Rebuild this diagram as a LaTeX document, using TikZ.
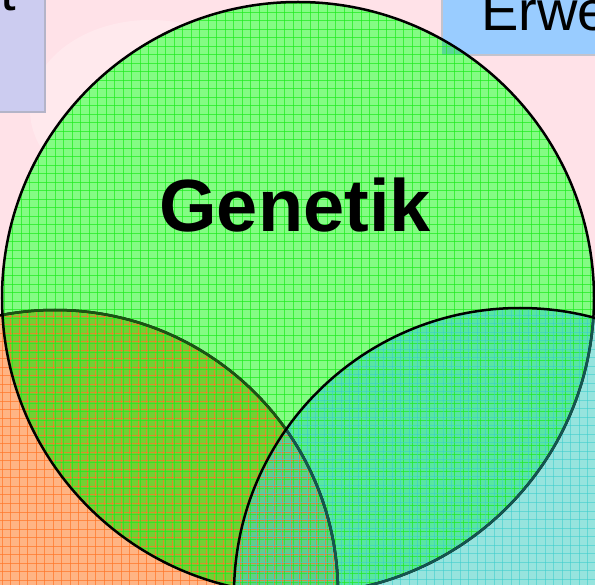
\documentclass[tikz,border=0pt]{standalone}
\usepackage{fontspec}
\setmainfont{Liberation Sans}
\definecolor{bgpink}{RGB}{255,226,232}
\definecolor{orgbase}{RGB}{255,180,132}
\definecolor{orgline}{RGB}{255,118,40}
\definecolor{grnbase}{RGB}{132,252,132}
\definecolor{grnline}{RGB}{30,235,30}
\definecolor{olivefill}{RGB}{115,208,50}
\definecolor{cybase}{RGB}{150,228,222}
\definecolor{cyline}{RGB}{58,205,205}
\definecolor{cygrn}{RGB}{88,230,162}
\definecolor{cyorg}{RGB}{150,205,175}
\definecolor{cytriple}{RGB}{98,205,138}
\definecolor{lavbox}{RGB}{204,204,240}
\definecolor{lavedge}{RGB}{180,180,200}
\definecolor{bluebox}{RGB}{153,204,255}
\definecolor{blueedge}{RGB}{195,195,205}
\definecolor{boxgrn}{RGB}{90,215,150}
\definecolor{darkgrnedge}{RGB}{25,85,20}
\definecolor{darkcyedge}{RGB}{20,85,80}
\tikzset{
  gridline/.style={line width=1pt, opacity=0.7},
  rim/.style={line width=2.5pt},
  bigtext/.style={inner sep=0pt, outer sep=0pt, text=black}
}
\begin{document}
\begin{tikzpicture}[x=1pt,y=-1pt]
\def\orgC{(55,593) circle[radius=283pt]}
\def\grnC{(298,298) circle[radius=296pt]}
\def\cyC{(520,594) circle[radius=286pt]}
\useasboundingbox (0,0) rectangle (595,585);
\clip (0,0) rectangle (595,585);
% background
\fill[bgpink] (0,0) rectangle (595,585);
\fill[white, opacity=0.25] (150,110) ellipse[x radius=120pt, y radius=90pt];
% boxes
\fill[lavbox] (-5,-5) rectangle (45,112);
\draw[lavedge, line width=2pt] (-5,112) -- (45,112) -- (45,-5);
\fill[bluebox] (442,-5) rectangle (600,55);
\draw[blueedge, line width=2pt] (442,-5) -- (442,55) -- (600,55);
% circle fills
\fill[orgbase] \orgC;
\fill[grnbase] \grnC;
\begin{scope}\clip \orgC; \fill[olivefill] \grnC; \end{scope}
\begin{scope}\clip (442,-5) rectangle (600,55); \fill[boxgrn] \grnC; \end{scope}
\fill[cybase] \cyC;
\begin{scope}\clip \cyC; \fill[cygrn] \grnC; \end{scope}
\begin{scope}\clip \cyC; \clip \orgC; \fill[cyorg] \orgC; \clip \grnC; \fill[cytriple] \grnC; \end{scope}
% grids
\begin{scope}
  \clip \orgC;
  \foreach \k in {0,...,70} {
    \draw[gridline, orgline] (\k*8.5+2, 0) -- (\k*8.5+2, 585);
    \draw[gridline, orgline] (0, \k*8.5+2) -- (595, \k*8.5+2);
  }
\end{scope}
\begin{scope}
  \clip \grnC;
  \foreach \k in {0,...,70} {
    \draw[gridline, grnline] (\k*8.5+4, 0) -- (\k*8.5+4, 585);
    \draw[gridline, grnline] (0, \k*8.5+4) -- (595, \k*8.5+4);
  }
\end{scope}
\begin{scope}
  \clip \cyC;
  \foreach \k in {0,...,70} {
    \draw[gridline, cyline, opacity=0.55] (\k*8.5+1, 0) -- (\k*8.5+1, 585);
    \draw[gridline, cyline, opacity=0.55] (0, \k*8.5+1) -- (595, \k*8.5+1);
  }
\end{scope}
% borders
\draw[rim, black] \orgC;
\begin{scope}\clip \grnC; \draw[rim, darkgrnedge] \orgC; \end{scope}
\draw[rim, black] \grnC;
\begin{scope}\clip \cyC; \draw[rim, darkcyedge] \orgC; \draw[rim, darkcyedge] \grnC; \end{scope}
\draw[rim, black] \cyC;
% texts
\node[bigtext, anchor=base east, font=\fontsize{56}{60}\selectfont] (ttext) at (16,11) {t};
\node[bigtext, anchor=base west, font=\fontsize{56}{60}\selectfont] (erwe) at (481,31) {Erwe};
\node[bigtext, anchor=base, font=\fontsize{74}{80}\selectfont\bfseries] (genetik) at (295,232) {Genetik};
\end{tikzpicture}
\end{document}
